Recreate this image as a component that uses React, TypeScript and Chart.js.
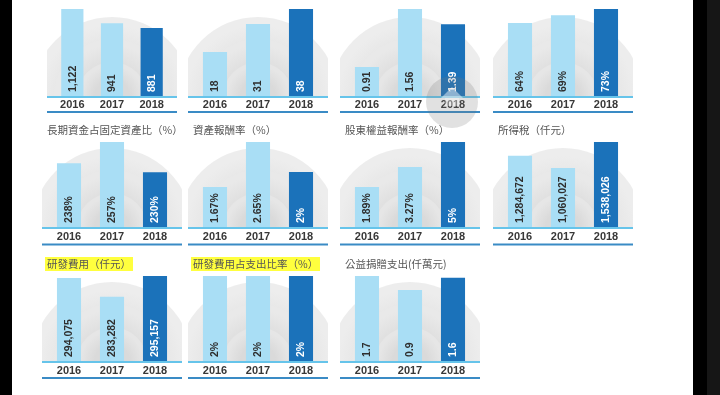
import React, { useEffect, useRef } from "react";
import { Chart, registerables } from "chart.js";
Chart.register(...registerables);

// ---------- data ----------
const YEARS = ["2016", "2017", "2018"];

// row 1 (titles cut off at the top of the picture)
const seriesR1C1 = [1122, 941, 881];
const seriesR1C2 = [18, 31, 38];
const seriesR1C3 = [0.91, 1.56, 1.39];
const seriesR1C4 = [64, 69, 73];
// row 2
const longTermFundsToFixedAssets = [238, 257, 230];
const returnOnAssets = [1.67, 2.65, 2];
const returnOnEquity = [1.89, 3.27, 5];
const incomeTax = [1284672, 1060027, 1538026];
// row 3
const rdExpense = [294075, 283282, 295157];
const rdExpenseRatio = [2, 2, 2];
const donations = [1.7, 0.9, 1.6];

const TITLES = {
  ltf: "長期資金占固定資產比（%）",
  roa: "資產報酬率（%）",
  roe: "股東權益報酬率（%）",
  tax: "所得稅（仟元）",
  rd: "研發費用（仟元）",
  rdr: "研發費用占支出比率（%）",
  don: "公益捐贈支出(仟萬元)",
};

// ---------- layout / style ----------
const COL_X = [42, 188, 340, 493];
const ROW_BASE = [97, 228, 362];
const ROW_TOP = [9, 142, 276];
const ROW_YEAR_OFF = [7.5, 9, 9];
const ROW_LINE_OFF = [15, 16.5, 16];
const LIGHT = "#a9def5";
const DARK = "#1b72ba";

type PanelDef = {
  title: string;
  values: number[];
  suffix: string;
  min: number;
  max: number;
  col: number;
  row: number;
  highlight?: boolean;
  x?: number;
  w?: number;
};

const PANELS: PanelDef[] = [
  { title: "", values: seriesR1C1, suffix: "", min: 0, max: 1122, col: 0, row: 0, x: 47, w: 130 },
  { title: "", values: seriesR1C2, suffix: "", min: -3, max: 38, col: 1, row: 0 },
  { title: "", values: seriesR1C3, suffix: "", min: 0.574, max: 1.56, col: 2, row: 0 },
  { title: "", values: seriesR1C4, suffix: "%", min: 16.4, max: 73, col: 3, row: 0 },
  { title: TITLES.ltf, values: longTermFundsToFixedAssets, suffix: "%", min: 180, max: 257, col: 0, row: 1 },
  { title: TITLES.roa, values: returnOnAssets, suffix: "%", min: 0.78, max: 2.65, col: 1, row: 1 },
  { title: TITLES.roe, values: returnOnEquity, suffix: "%", min: -0.94, max: 5, col: 2, row: 1 },
  { title: TITLES.tax, values: incomeTax, suffix: "", min: -43000, max: 1538026, col: 3, row: 1 },
  { title: TITLES.rd, values: rdExpense, suffix: "", min: 246000, max: 295157, col: 0, row: 2, highlight: true },
  { title: TITLES.rdr, values: rdExpenseRatio, suffix: "%", min: 0, max: 2, col: 1, row: 2, highlight: true },
  { title: TITLES.don, values: donations, suffix: "", min: -3.21, max: 1.7, col: 2, row: 2 },
];

const PAD = 4;
const BASE_IN_CANVAS = 100;
const CANVAS_H = 122;

function fmt(v: number, suffix: string) {
  return v.toLocaleString("en-US", { maximumFractionDigits: 2 }) + suffix;
}

function Panel({ p }: { p: PanelDef }) {
  const ref = useRef<HTMLCanvasElement>(null);
  const L = p.x ?? COL_X[p.col];
  const W = p.w ?? 140;
  const base = ROW_BASE[p.row];
  const top = ROW_TOP[p.row];
  const cw = W + PAD * 2;

  useEffect(() => {
    const yearOff = ROW_YEAR_OFF[p.row];
    const lineOff = ROW_LINE_OFF[p.row];
    const decor = {
      id: "decor",
      beforeDatasetsDraw(chart: any) {
        const { ctx, chartArea } = chart;
        const b = chartArea.bottom;
        const cx = PAD + W / 2;
        ctx.save();
        ctx.beginPath();
        ctx.rect(PAD, 0, W, b);
        ctx.clip();
        const rings: [number, string, string][] = [
          [80, "#ededed", "#e2e2e2"],
          [58, "#e9e9e9", "#dddddd"],
          [35, "#e6e6e6", "#dadada"],
        ];
        for (const [r, edge, inner] of rings) {
          const g = ctx.createRadialGradient(cx, b, r * 0.5, cx, b, r);
          g.addColorStop(0, inner);
          g.addColorStop(0.8, edge);
          g.addColorStop(1, edge);
          ctx.fillStyle = g;
          ctx.beginPath();
          ctx.arc(cx, b, r, 0, Math.PI * 2);
          ctx.fill();
        }
        ctx.restore();
      },
      afterDatasetsDraw(chart: any) {
        const { ctx, chartArea } = chart;
        const b = chartArea.bottom;
        const meta = chart.getDatasetMeta(0);
        ctx.save();
        ctx.fillStyle = "#66c4ea";
        ctx.fillRect(PAD, b - 1, W, 2);
        ctx.fillStyle = "#3a8bc5";
        ctx.fillRect(PAD, b + lineOff - 1, W, 2);
        ctx.font = 'bold 11px "Liberation Sans", Arial, sans-serif';
        ctx.fillStyle = "#383838";
        ctx.textAlign = "center";
        ctx.textBaseline = "middle";
        meta.data.forEach((bar: any, i: number) => {
          ctx.fillText(YEARS[i], bar.x, b + yearOff);
        });
        ctx.font = 'bold 10.5px "Liberation Sans", Arial, sans-serif';
        ctx.textAlign = "left";
        meta.data.forEach((bar: any, i: number) => {
          ctx.save();
          ctx.translate(bar.x, b - 5);
          ctx.rotate(-Math.PI / 2);
          ctx.fillStyle = i === 2 ? "#ffffff" : "#2e2e2e";
          ctx.fillText(fmt(p.values[i], p.suffix), 0, 0.5);
          ctx.restore();
        });
        ctx.restore();
      },
    };
    const chart = new Chart(ref.current as HTMLCanvasElement, {
      type: "bar",
      data: {
        labels: YEARS,
        datasets: [
          {
            data: p.values,
            backgroundColor: [LIGHT, LIGHT, DARK],
            borderWidth: 0,
            barPercentage: 0.56,
            categoryPercentage: 1,
            base: p.min,
          } as any,
        ],
      },
      options: {
        responsive: false,
        maintainAspectRatio: false,
        animation: false,
        events: [],
        layout: {
          padding: {
            left: PAD + 5.5,
            right: PAD + 5.5,
            top: BASE_IN_CANVAS - (base - top),
            bottom: CANVAS_H - BASE_IN_CANVAS,
          },
        },
        scales: {
          x: { display: false },
          y: { display: false, min: p.min, max: p.max },
        },
        plugins: { legend: { display: false }, tooltip: { enabled: false }, title: { display: false } },
      },
      plugins: [decor],
    });
    return () => chart.destroy();
  }, []);

  return (
    <canvas
      ref={ref}
      width={cw}
      height={CANVAS_H}
      style={{
        position: "absolute",
        left: L - PAD,
        top: base - BASE_IN_CANVAS,
        width: cw,
        height: CANVAS_H,
      }}
    />
  );
}

export default function App() {
  return (
    <div
      style={{
        position: "fixed",
        left: 0,
        top: 0,
        width: 720,
        height: 395,
        background: "#ffffff",
        overflow: "hidden",
      }}
    >
      {PANELS.map((p, i) => (
        <Panel key={i} p={p} />
      ))}
      {PANELS.filter((p) => p.title).map((p, i) => {
        const L = p.x ?? COL_X[p.col];
        return (
          <div
            key={"t" + i}
            style={{
              position: "absolute",
              left: L + (p.highlight ? 3 : 5),
              top: ROW_BASE[p.row] - 98 - 7,
              fontFamily: '"Noto Sans CJK TC", "Noto Sans", sans-serif',
              fontSize: 10.5,
              lineHeight: "14px",
              color: "#555555",
              whiteSpace: "nowrap",
              background: p.highlight ? "#ffff3e" : "transparent",
              padding: p.highlight ? "0 2px" : 0,
            }}
          >
            {p.title}
          </div>
        );
      })}
      {/* floating round button overlay */}
      <div
        style={{
          position: "absolute",
          left: 426,
          top: 76,
          width: 52,
          height: 52,
          borderRadius: "50%",
          background: "rgba(120,120,120,0.22)",
        }}
      >
        <div
          style={{
            position: "absolute",
            left: 15,
            top: 11,
            width: 0,
            height: 0,
            borderLeft: "11px solid transparent",
            borderRight: "11px solid transparent",
            borderBottom: "11px solid rgba(255,255,255,0.45)",
          }}
        />
        <div
          style={{
            position: "absolute",
            left: 19,
            top: 22,
            width: 14,
            height: 8,
            background: "rgba(255,255,255,0.35)",
          }}
        />
      </div>
      <div style={{ position: "absolute", left: 0, top: 0, width: 12, height: 395, background: "#000" }} />
      <div style={{ position: "absolute", left: 693, top: 0, width: 14, height: 395, background: "#000" }} />
      <div style={{ position: "absolute", left: 707, top: 0, width: 13, height: 395, background: "#161616" }} />
    </div>
  );
}
